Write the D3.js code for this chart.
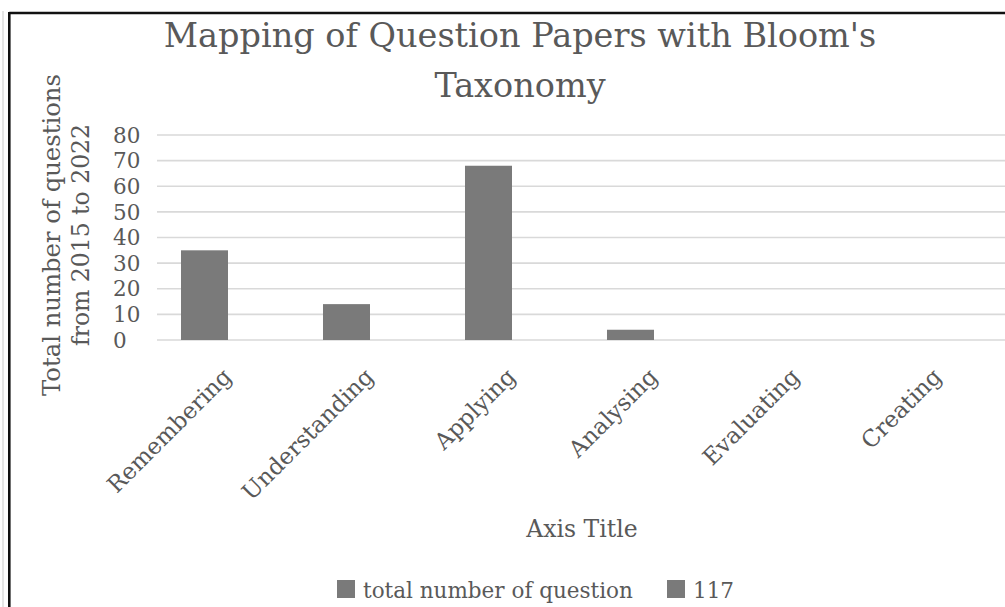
<!DOCTYPE html>
<html>
<head>
<meta charset="utf-8">
<script src="https://cdn.jsdelivr.net/npm/d3@7"></script>
<style>
  html, body { margin: 0; padding: 0; background: #ffffff; }
  svg { display: block; }
  text { font-family: "DejaVu Serif", serif; fill: #595959; }
</style>
</head>
<body>
<svg id="chart" width="1005" height="607"></svg>
<script>
// ---- data ----
const categories = ["Remembering", "Understanding", "Applying", "Analysing", "Evaluating", "Creating"];
const seriesNames = ["total number of question", "117"];
const totalQuestions = [35, 14, 68, 4, null, null];
const series117 = [null, null, null, null, null, null];
const yTicks = [0, 10, 20, 30, 40, 50, 60, 70, 80];
const titleLines = ["Mapping of Question Papers with Bloom's", "Taxonomy"];
const yTitleLines = ["Total number of questions", "from 2015 to 2022"];
const xTitle = "Axis Title";

const seriesValues = [totalQuestions, series117];
const barColor = "#7a7a7a";

const svg = d3.select("#chart");

// frame
svg.append("line").attr("x1", 3).attr("x2", 3).attr("y1", 11).attr("y2", 607)
  .attr("stroke", "#dcdcdc").attr("stroke-width", 1.5);
svg.append("line").attr("x1", 9.3).attr("x2", 1005).attr("y1", 13).attr("y2", 13)
  .attr("stroke", "#111").attr("stroke-width", 2.6);
svg.append("line").attr("x1", 9.3).attr("x2", 9.3).attr("y1", 12).attr("y2", 607)
  .attr("stroke", "#111").attr("stroke-width", 2.6);

// scales
const x0 = d3.scaleBand().domain(categories).range([157, 1009])
  .paddingInner(0.338).paddingOuter(0.169);
const x1 = d3.scaleBand().domain(seriesNames).range([0, x0.bandwidth()]).padding(0);
const y = d3.scaleLinear().domain([0, 80]).range([340, 135]);

// gridlines
svg.append("g").selectAll("line").data(yTicks).join("line")
  .attr("x1", 157).attr("x2", 1009)
  .attr("y1", d => y(d)).attr("y2", d => y(d))
  .attr("stroke", "#d9d9d9").attr("stroke-width", 1.6);

// y tick labels (left aligned)
svg.append("g").selectAll("text").data(yTicks).join("text")
  .attr("x", 113).attr("y", d => y(d))
  .attr("dy", "0.36em")
  .attr("font-size", 21.5)
  .text(d => d);

// bars
const barData = [];
seriesValues.forEach((vals, si) => {
  vals.forEach((v, ci) => {
    if (v !== null) barData.push({cat: categories[ci], series: seriesNames[si], value: v});
  });
});
svg.append("g").selectAll("rect").data(barData).join("rect")
  .attr("x", d => x0(d.cat) + x1(d.series))
  .attr("width", x1.bandwidth())
  .attr("y", d => y(d.value))
  .attr("height", d => y(0) - y(d.value))
  .attr("fill", barColor);

// x labels
svg.append("g").selectAll("text").data(categories).join("text")
  .attr("transform", d => `translate(${x0(d) + x0.bandwidth() / 2 + 5},378) rotate(-45)`)
  .attr("text-anchor", "end")
  .attr("font-size", 23)
  .text(d => d);

// title
svg.append("g").selectAll("text").data(titleLines).join("text")
  .attr("x", 520).attr("y", (d, i) => 47 + i * 50)
  .attr("text-anchor", "middle")
  .attr("font-size", 33.5)
  .text(d => d);

// y-axis title
svg.append("g").selectAll("text").data(yTitleLines).join("text")
  .attr("transform", (d, i) => `translate(${60 + i * 29},235) rotate(-90)`)
  .attr("text-anchor", "middle")
  .attr("font-size", (d, i) => i === 0 ? 24.3 : 23.5)
  .text(d => d);

// x-axis title
svg.append("text").attr("x", 582).attr("y", 537)
  .attr("text-anchor", "middle").attr("font-size", 23.5)
  .text(xTitle);

// legend
const legendX = [337, 667];
const lg = svg.append("g").selectAll("g").data(seriesNames).join("g")
  .attr("transform", (d, i) => `translate(${legendX[i]},580)`);
lg.append("rect").attr("width", 18).attr("height", 18).attr("fill", barColor);
lg.append("text").attr("x", 26).attr("y", 18).attr("font-size", 21.5).text(d => d);
</script>
</body>
</html>
